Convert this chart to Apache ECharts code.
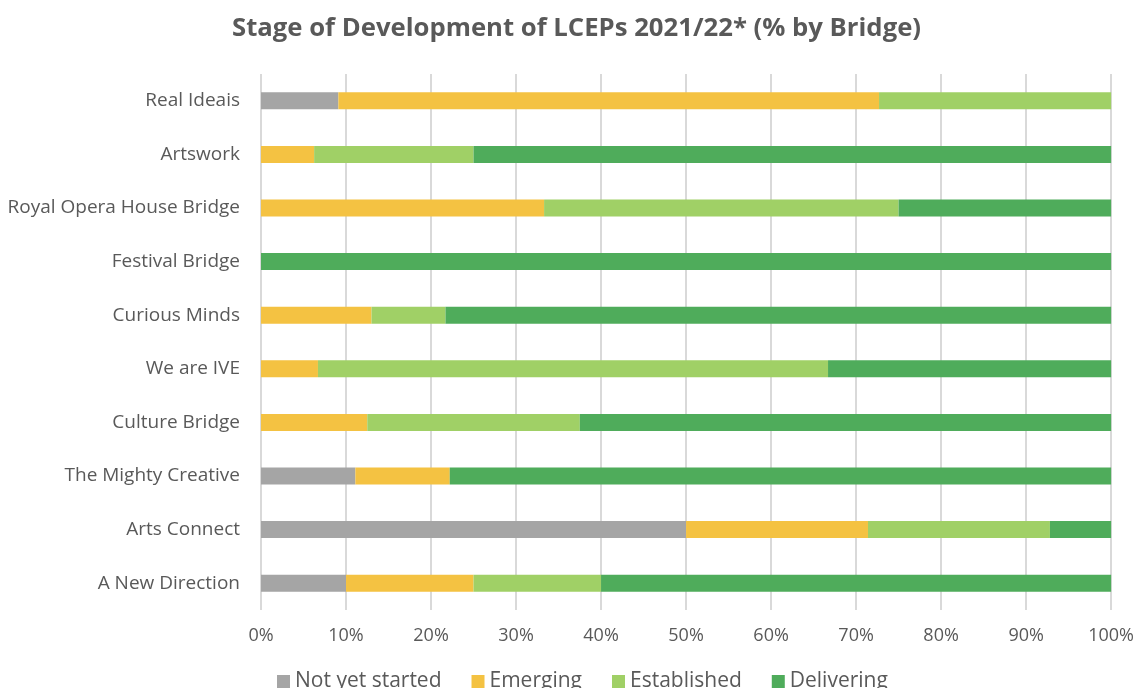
<!DOCTYPE html>
<html><head><meta charset="utf-8">
<script src="https://cdn.jsdelivr.net/npm/echarts@6/dist/echarts.min.js"></script>
<style>html,body{margin:0;padding:0;background:#fff}#c{width:1137px;height:688px}</style>
</head><body><div id="c"></div>
<script>
const categories = ['A New Direction','Arts Connect','The Mighty Creative','Culture Bridge','We are IVE','Curious Minds','Festival Bridge','Royal Opera House Bridge','Artswork','Real Ideais'];
const notYetStarted = [10, 50, 11.1, 0, 0, 0, 0, 0, 0, 9.1];
const emerging = [15, 21.4, 11.1, 12.5, 6.7, 13.0, 0, 33.3, 6.25, 63.6];
const established = [15, 21.4, 0, 25, 60, 8.7, 0, 41.7, 18.75, 27.3];
const delivering = [60, 7.2, 77.8, 62.5, 33.3, 78.3, 100, 25, 75, 0];
const seriesNames = ['Not yet started','Emerging','Established','Delivering'];
const colors = ['#a5a5a5','#f4c242','#a0d066','#4fac5b'];
const font = '"Open Sans", "DejaVu Sans", sans-serif';
const chart = echarts.init(document.getElementById('c'));
const dataSets = [notYetStarted, emerging, established, delivering];
chart.setOption({
  animation: false,
  title: { text: 'Stage of Development of LCEPs 2021/22* (% by Bridge)', left: 227, top: 11,
    textStyle: { fontFamily: font, fontSize: 25.7, fontWeight: 'bold', color: '#595959' } },
  legend: { bottom: -9, left: 272, itemWidth: 13, itemHeight: 13, itemGap: 30, icon: 'rect',
    textStyle: { fontFamily: font, fontSize: 21, color: '#595959' }, data: seriesNames },
  grid: { left: 261, right: 25, top: 74, bottom: 78, containLabel: false },
  xAxis: { type: 'value', min: 0, max: 100, interval: 10,
    axisLabel: { formatter: '{value}%', fontFamily: font, fontSize: 18, color: '#595959', margin: 17 },
    splitLine: { lineStyle: { color: '#d9d9d9', width: 2 } }, axisLine: { show: false }, axisTick: { show: false } },
  yAxis: { type: 'category', data: categories,
    axisLabel: { fontFamily: font, fontSize: 19, color: '#595959', margin: 21 },
    axisLine: { show: false }, axisTick: { show: false } },
  series: seriesNames.map((n, i) => ({ name: n, type: 'bar', stack: 'all', barWidth: 17,
    itemStyle: { color: colors[i] }, data: dataSets[i] }))
});
</script></body></html>
